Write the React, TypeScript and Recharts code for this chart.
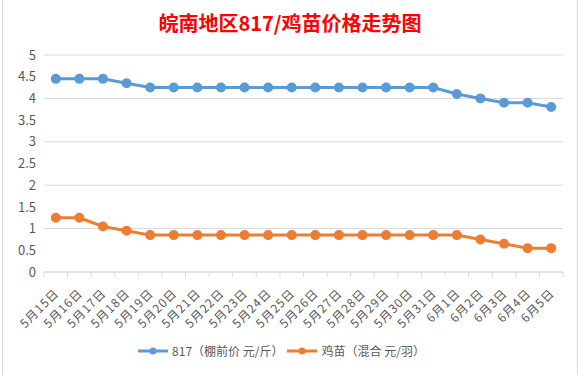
import React from 'react';
import { LineChart, Line, XAxis, YAxis, CartesianGrid, Legend } from 'recharts';

const dates = ['5月15日','5月16日','5月17日','5月18日','5月19日','5月20日','5月21日','5月22日','5月23日','5月24日','5月25日','5月26日','5月27日','5月28日','5月29日','5月30日','5月31日','6月1日','6月2日','6月3日','6月4日','6月5日'];
const price817 = [4.45,4.45,4.45,4.35,4.25,4.25,4.25,4.25,4.25,4.25,4.25,4.25,4.25,4.25,4.25,4.25,4.25,4.1,4.0,3.9,3.9,3.8];
const chickPrice = [1.25,1.25,1.05,0.95,0.85,0.85,0.85,0.85,0.85,0.85,0.85,0.85,0.85,0.85,0.85,0.85,0.85,0.85,0.75,0.65,0.55,0.55];
const yTicks = [0,0.5,1,1.5,2,2.5,3,3.5,4,4.5,5];
const seriesNames = ['817（棚前价 元/斤）','鸡苗（混合 元/羽）'];
const title = '皖南地区817/鸡苗价格走势图';

const data = dates.map((d, i) => ({ date: d, a: price817[i], b: chickPrice[i] }));

const FONT = '"Noto Sans CJK SC", "Noto Sans", sans-serif';
const BLUE = '#5B9BD5';
const ORANGE = '#ED7D31';

const band = (563 - 44) / dates.length;

const XTick = (props: any) => {
  const { x, y, payload, index } = props;
  const tx = x + 4;
  const ty = y + 14;
  return (
    <g>
      <line x1={x - band / 2} x2={x - band / 2} y1={y - 8} y2={y - 3} stroke="#d9d9d9" />
      {index === dates.length - 1 && (
        <line x1={x + band / 2} x2={x + band / 2} y1={y - 8} y2={y - 3} stroke="#d9d9d9" />
      )}
      <text x={tx} y={ty} transform={`rotate(-45, ${tx}, ${ty})`} textAnchor="end" fontSize={12} letterSpacing={1} fill="#595959" fontFamily={FONT}>
        {payload.value}
      </text>
    </g>
  );
};

const LegendContent = () => (
  <div style={{ display: 'flex', justifyContent: 'center', alignItems: 'center', fontFamily: FONT, fontSize: 12, color: '#595959', marginTop: -3 }}>
    {[BLUE, ORANGE].map((c, i) => (
      <div key={i} style={{ display: 'flex', alignItems: 'center', marginRight: i === 0 ? 4 : 0 }}>
        <svg width={30} height={10} style={{ marginRight: 4 }}>
          <line x1={0} x2={30} y1={5} y2={5} stroke={c} strokeWidth={3} />
          <circle cx={15} cy={5} r={3.5} fill={c} />
        </svg>
        <span>{seriesNames[i]}</span>
      </div>
    ))}
  </div>
);

export default function App() {
  return (
    <div style={{ position: 'absolute', left: 0, top: 0, width: 580, height: 375, background: '#fff' }}>
      <div style={{ position: 'absolute', left: 2, top: 0, width: 574, height: 375, borderLeft: '1px solid #d9d9d9', borderRight: '1px solid #d9d9d9' }} />
      <div style={{ position: 'absolute', top: 8, left: 0, width: 580, textAlign: 'center', fontFamily: FONT, fontWeight: 'bold', fontSize: 20, color: '#FF0000' }}>
        {title}
      </div>
      <LineChart width={580} height={375} data={data} margin={{ top: 55, right: 17, left: 0, bottom: 16 }}>
        <CartesianGrid vertical={false} stroke="#d9d9d9" />
        <XAxis dataKey="date" interval={0} tickLine={false} stroke="#d9d9d9" height={73} tick={<XTick />} padding={{ left: band / 2, right: band / 2 }} />
        <YAxis domain={[0, 5]} ticks={yTicks} width={44} axisLine={false} tickLine={false} tick={{ fill: '#595959', fontSize: 13, fontFamily: FONT }} />
        <Legend verticalAlign="bottom" content={<LegendContent />} />
        <Line dataKey="a" name={seriesNames[0]} stroke={BLUE} strokeWidth={3} dot={{ r: 3.5, fill: BLUE, stroke: BLUE }} isAnimationActive={false} />
        <Line dataKey="b" name={seriesNames[1]} stroke={ORANGE} strokeWidth={3} dot={{ r: 3.5, fill: ORANGE, stroke: ORANGE }} isAnimationActive={false} />
      </LineChart>
    </div>
  );
}
